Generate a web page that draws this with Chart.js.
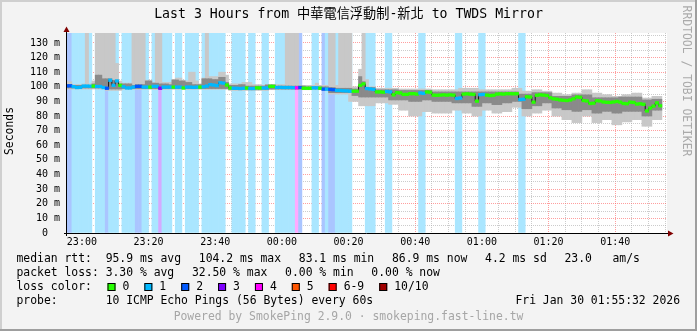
<!DOCTYPE html>
<html>
<head>
<meta charset="utf-8">
<title>SmokePing - Last 3 Hours</title>
<script src="https://cdn.jsdelivr.net/npm/chart.js@4.4.1/dist/chart.umd.min.js"></script>
<style>
  html, body { margin: 0; padding: 0; background: #f3f3f3; }
  canvas { display: block; }
</style>
</head>
<body>
<canvas id="smoke" width="697" height="331"></canvas>
<script>
// one slot per minute, slot 0 = 22:55 ... slot 180 = 01:55
const lossLevels = [
  2, 2, 1, 1, 1, 1, 1, 1, 0, 1,
  1, 1, 2, 1, 1, 1, 0, 1, 1, 1,
  1, 2, 2, 1, 1, 0, 1, 1, 3, 1,
  1, 1, 0, 1, 1, 0, 1, 1, 1, 1,
  0, 1, 1, 1, 1, 1, 1, 1, 0, 0,
  1, 1, 1, 1, 0, 1, 1, 0, 0, 1,
  1, 0, 0, 1, 1, 1, 1, 1, 1, 4,
  2, 0, 0, 0, 1, 1, 0, 2, 1, 2,
  2, 1, 1, 1, 1, 1, 0, 0, 0, 0,
  1, 1, 1, 0, 0, 0, 1, 1, 0, 0,
  0, 0, 0, 0, 0, 0, 1, 1, 0, 0,
  0, 0, 0, 0, 0, 0, 0, 1, 1, 0,
  0, 0, 0, 0, 1, 1, 0, 0, 0, 0,
  0, 0, 0, 0, 0, 0, 1, 1, 0, 0,
  0, 0, 0, 0, 0, 0, 0, 0, 0, 0,
  0, 0, 0, 0, 0, 0, 0, 0, 0, 0,
  0, 0, 0, 0, 0, 0, 0, 0, 0, 0,
  0, 0, 0, 0, 0, 0, 0, 0, 0, 0, 0
];

const median = [
  100.7, 100.7, 100.1, 99.5, 99.6, 100.5, 100.5, 100.4, 100.5, 100.2,
  100.2, 99.5, 99.0, 104.5, 101.0, 104.0, 101.0, 100.0, 99.2, 99.2,
  99.8, 100.3, 100.3, 99.8, 99.8, 99.8, 100.3, 100.3, 99.0, 99.8,
  99.8, 99.8, 99.8, 99.8, 99.8, 99.2, 99.8, 99.8, 99.6, 99.8,
  99.8, 100.0, 100.5, 101.5, 101.2, 100.8, 102.8, 102.5, 101.2, 99.2,
  99.0, 99.0, 98.8, 99.0, 99.2, 98.8, 98.8, 99.3, 99.2, 99.2,
  99.2, 100.3, 100.3, 99.5, 99.6, 99.5, 99.5, 99.5, 99.4, 99.3,
  99.5, 99.0, 99.0, 99.0, 99.3, 99.3, 99.0, 98.4, 98.4, 98.2,
  98.0, 97.5, 97.5, 97.3, 97.2, 97.0, 97.0, 97.0, 101.0, 102.0,
  98.8, 98.5, 98.2, 96.5, 96.5, 96.3, 96.8, 96.5, 94.5, 96.0,
  95.8, 94.8, 94.8, 95.3, 95.3, 95.0, 95.8, 95.5, 96.5, 96.3,
  94.3, 94.2, 94.3, 94.5, 94.3, 94.5, 94.3, 92.0, 92.3, 95.0,
  95.2, 95.0, 94.8, 90.2, 94.6, 94.8, 94.3, 94.0, 94.2, 95.0,
  95.2, 95.0, 95.3, 95.3, 95.2, 95.3, 91.3, 91.5, 93.2, 93.0,
  89.5, 94.2, 94.5, 94.3, 94.0, 92.5, 91.8, 91.5, 91.0, 90.8,
  90.6, 91.0, 91.8, 93.0, 92.8, 90.6, 90.3, 88.6, 88.8, 90.5,
  90.3, 89.6, 89.4, 89.3, 89.6, 90.0, 89.5, 88.6, 88.4, 89.5,
  89.3, 88.2, 88.4, 88.0, 83.5, 85.5, 86.8, 89.0, 87.0, null, null
];

// smoke: outer = min..max ping, inner = middle pings
const outerHi = [
  103.5, 103.5, 101.5, 101.5, 101.5, 102, 137, 102, 104, 137,
  137, 137, 137, 137, 137, 116, 104, 102.5, 102.5, 102.5,
  137, 137, 137, 137, 104.5, 104.5, 103, 137, 137, 103,
  103, 103, 105, 106, 106, 104.5, 104, 110, 110, 104,
  102, 106, 137, 107, 107, 107, 110, 110, 108, 102,
  102, 102, 102, 103, 103, 103, 101.5, 101.5, 101.5, 101,
  101.5, 101.5, 101.5, 101.5, 101.5, 101.5, 137, 137, 137, 137,
  101, 101, 101, 101, 101, 102.5, 101, 101, 101, 137,
  137, 101, 137, 137, 137, 137, 100, 100, 112, 137,
  105, 100, 100, 99, 99, 99, 99, 99, 99, 99,
  98.5, 98.5, 98.5, 98.5, 98.5, 98.5, 98.5, 98.5, 98.5, 98.5,
  98, 98, 98, 98, 98, 98, 98, 98, 99, 99,
  99, 99, 99, 99, 98, 98, 98, 98, 98, 98,
  98, 98, 98, 98, 99, 99, 99, 97, 97, 97,
  98, 98, 98, 97, 97, 97, 95.7, 95.7, 95.7, 94.6,
  94.6, 94.6, 95.7, 95.7, 95.7, 98, 98, 98, 95.7, 95.7,
  95.7, 94.6, 94.6, 94.6, 93.5, 93.5, 93.5, 94.6, 94.6, 94.6,
  95.7, 95.7, 95.7, 92.3, 92.3, 92.3, 93.5, 93.5, 93.5, null, null
];

const outerLo = [
  98.5, 98.5, 98.5, 98.5, 98.5, 98.5, 98.5, 98.5, 98.5, 98.5,
  98.5, 98.5, 97.5, 97.5, 97.5, 97.5, 97.5, 98.3, 98.3, 98.3,
  98.3, 98.3, 98.3, 98.3, 98.3, 98.3, 98.3, 98.3, 98.3, 98.3,
  98.3, 98.3, 98.3, 98.3, 98.3, 98.3, 98.3, 98.3, 98.3, 98.3,
  98.3, 98.3, 98.3, 98.3, 98.3, 98.3, 98.3, 98.3, 98.3, 97.5,
  97.5, 97.5, 97.5, 97.5, 97.5, 97.5, 97.5, 97.5, 97.5, 97.5,
  97.5, 98, 98, 98, 98, 98, 98, 98, 98, 98,
  98, 98, 98, 98, 98, 98, 98, 97.3, 97.3, 95,
  95, 95, 95, 95, 95, 90, 90, 90, 87, 87,
  87, 87, 87, 89, 89, 89, 89, 88, 88, 88,
  84, 84, 84, 80, 80, 80, 80, 83, 83, 83,
  82, 82, 82, 82, 82, 82, 84, 84, 84, 82,
  82, 82, 80, 80, 80, 84, 84, 84, 82, 82,
  82, 83, 83, 83, 86, 86, 86, 80, 80, 80,
  82, 82, 82, 84, 84, 84, 80, 80, 80, 77.5,
  77.5, 77.5, 75.5, 75.5, 75.5, 80, 80, 80, 75.5, 75.5,
  75.5, 77.5, 77.5, 77.5, 74, 74, 74, 76, 76, 76,
  77.5, 77.5, 77.5, 73, 73, 73, 77.5, 77.5, 77.5, null, null
];

const innerHi = [
  101.5, 101.5, 101, 101, 101, 101, 101, 101, 102, 108,
  108, 105.5, 105.5, 105.5, 104.5, 104.5, 102, 102, 102, 102,
  101, 101.5, 101.5, 101.5, 104, 104, 102.5, 102.5, 102, 102,
  102, 101.5, 104.7, 104.7, 104, 104, 103, 103, 101.5, 101.5,
  101.5, 105.5, 105.5, 105.5, 105, 105, 106.5, 106.5, 103, 101,
  101, 101, 101.5, 101.5, 100.5, 100.5, 100.5, 100.5, 100.5, 100.5,
  101.3, 101.3, 101.3, 100.5, 100.5, 100.5, 100.5, 100.5, 100.5, 100.5,
  100.5, 100.5, 100, 100, 100, 100, 100, 100, 100, 99.5,
  99.5, 99, 99, 99, 99, 99, 98.5, 98.5, 107, 103.5,
  99.5, 99.5, 99.5, 98, 98, 98, 98, 98, 98, 98,
  97.5, 97.5, 97.5, 97.5, 97.5, 97.5, 97.5, 97.5, 97.5, 97.5,
  96.5, 96.5, 96.5, 96.5, 96.5, 96.5, 96.5, 96.5, 96.5, 96.5,
  96.5, 96.5, 96.5, 96.5, 96.5, 96.5, 96.5, 96.5, 96.5, 96.5,
  96.5, 96.5, 96.5, 96.5, 96.5, 96.5, 95, 95, 95, 95,
  96, 96, 96, 96, 96, 96, 93.5, 93.5, 93.5, 93.5,
  93.5, 93.5, 94.5, 94.5, 94.5, 94.5, 94.5, 94.5, 92.5, 92.5,
  92.5, 92.5, 92.5, 92.5, 92.5, 92.5, 93, 93, 93, 93,
  93, 93, 93, 91, 91, 91, 91.5, 91.5, 91.5, null, null
];

const innerLo = [
  99.2, 99.2, 99.2, 99.2, 99.2, 99.2, 99.2, 99.2, 99.2, 99.2,
  99.2, 99.2, 98.5, 98.5, 98.5, 98.5, 98.5, 98.8, 98.8, 98.8,
  98.8, 98.8, 98.8, 98.8, 98.8, 98.8, 98.8, 98.8, 98.8, 98.8,
  98.8, 98.8, 98.8, 98.8, 98.8, 98.8, 98.8, 98.8, 98.8, 98.8,
  98.8, 98.8, 98.8, 98.8, 98.8, 98.8, 98.8, 98.8, 98.8, 98.2,
  98.2, 98.2, 98.2, 98.2, 98.2, 98.2, 98.2, 98.2, 98.2, 98.2,
  98.2, 98.5, 98.5, 98.5, 98.5, 98.5, 98.5, 98.5, 98.5, 98.5,
  98.5, 98.5, 98.5, 98.5, 98.5, 98.5, 98.5, 97.8, 97.8, 96,
  96, 96, 96, 96, 96, 96, 94, 94, 93, 93,
  93, 93, 93, 93, 93, 93, 93, 91, 91, 91,
  91, 91, 91, 90, 90, 90, 90, 91, 91, 91,
  90, 90, 90, 90, 90, 90, 89, 89, 89, 89,
  89, 89, 86.6, 86.6, 86.6, 89, 89, 89, 87.8, 87.8,
  87.8, 89, 89, 89, 90, 90, 90, 85, 85, 85,
  87, 87, 87, 89, 89, 89, 85.5, 85.5, 85.5, 84.3,
  84.3, 84.3, 83.2, 83.2, 83.2, 84.3, 84.3, 84.3, 82, 82,
  82, 83.2, 83.2, 83.2, 82, 82, 82, 83.2, 83.2, 83.2,
  83.2, 83.2, 83.2, 80, 80, 80, 84, 84, 84, null, null
];

const timeLabels = ['23:00', '23:20', '23:40', '00:00', '00:20', '00:40', '01:00', '01:20', '01:40'];
const rttLabels = ['0', '10 m', '20 m', '30 m', '40 m', '50 m', '60 m', '70 m',
  '80 m', '90 m', '100 m', '110 m', '120 m', '130 m'];

const lossNames = ['0', '1', '2', '3', '4', '5', '6-9', '10/10'];
const lossColors = ['#26ff00', '#00b8ff', '#0059ff', '#7e00ff', '#ff00ff', '#ff5500', '#ff0000', '#a10000'];
const lossBack = [null, '#aae6ff', '#aac5ff', '#d4aaff', '#ffaaff', '#ffccaa', '#ffaaaa', '#e3aaaa'];

// legend items, one array per line
const rttItems = ['median rtt:  95.9 ms avg', '104.2 ms max', '83.1 ms min', '86.9 ms now', '4.2 ms sd', '23.0   am/s'];
const lossItems = ['packet loss: 3.30 % avg', '32.50 % max', '0.00 % min', '0.00 % now'];
const probeLine = 'probe:       10 ICMP Echo Pings (56 Bytes) every 60s';
const stampText = 'Fri Jan 30 01:55:32 2026';
const titleText = 'Last 3 Hours from 中華電信浮動制-新北 to TWDS Mirror';

const yMax = 136.8;
const MONO = '"DejaVu Sans Mono", "Noto Sans CJK TC", monospace';

const lossIndex = l => (l >= 10 ? 7 : l >= 6 ? 6 : l);

// build bar data (x = middle of the minute)
const lossData = [], lossFill = [];
const outerData = [], innerData = [], medData = [], medColor = [], medLine = [];
lossLevels.forEach((l, i) => {
  const x = i + 0.5;
  if (l > 0) {
    lossData.push({ x: x, y: [0, yMax] });
    lossFill.push(lossBack[lossIndex(l)]);
  }
  if (median[i] != null) {
    outerData.push({ x: x, y: [outerLo[i], outerHi[i]] });
    innerData.push({ x: x, y: [innerLo[i], innerHi[i]] });
    medData.push({ x: x, y: [median[i] - 0.9, median[i] + 0.9] });
    medColor.push(lossColors[lossIndex(l)]);
  }
  medLine.push({ x: x, y: median[i] });
});

const bar = { type: 'bar', grouped: false, barPercentage: 1, categoryPercentage: 1, borderWidth: 0 };

const xTickVals = [];
for (let v = 5; v <= 180; v += 5) xTickVals.push(v);
const yTickVals = [];
for (let v = 0; v <= 135; v += 5) yTickVals.push(v);

const majorRed = 'rgba(255, 95, 95, 0.6)';
const minorGray = 'rgba(170, 170, 170, 0.6)';

function drawItems(ctx, items, x, y) {
  const gap = 17.7;
  items.forEach(t => {
    ctx.fillText(t, x, y);
    x += ctx.measureText(t).width + gap;
  });
}

const rrdFrame = {
  id: 'rrdFrame',
  beforeDraw(chart) {
    const { ctx, chartArea: a, width, height } = chart;
    ctx.save();
    ctx.fillStyle = '#f3f3f3';
    ctx.fillRect(0, 0, width, height);
    ctx.fillStyle = '#cfcfcf';
    ctx.fillRect(0, 0, width, 2);
    ctx.fillRect(0, 0, 2, height);
    ctx.fillStyle = '#9e9e9e';
    ctx.fillRect(0, height - 2, width, 2);
    ctx.fillRect(width - 2, 0, 2, height);
    ctx.fillStyle = '#ffffff';
    ctx.fillRect(a.left, a.top, a.right - a.left, a.bottom - a.top);
    ctx.restore();
  },
  afterDraw(chart) {
    const { ctx, chartArea: a, width } = chart;
    ctx.save();
    // axes
    ctx.strokeStyle = '#000';
    ctx.lineWidth = 1;
    ctx.beginPath();
    ctx.moveTo(a.left - 3, a.bottom + 0.5);
    ctx.lineTo(a.right + 2, a.bottom + 0.5);
    ctx.moveTo(a.left - 0.5, a.bottom + 3);
    ctx.lineTo(a.left - 0.5, a.top - 2);
    ctx.stroke();
    ctx.fillStyle = '#800000';
    ctx.beginPath();
    ctx.moveTo(a.right + 1, a.bottom - 2.5);
    ctx.lineTo(a.right + 6.5, a.bottom + 0.5);
    ctx.lineTo(a.right + 1, a.bottom + 3.5);
    ctx.closePath();
    ctx.fill();
    ctx.beginPath();
    ctx.moveTo(a.left - 3.5, a.top - 1);
    ctx.lineTo(a.left - 0.5, a.top - 6.5);
    ctx.lineTo(a.left + 2.5, a.top - 1);
    ctx.closePath();
    ctx.fill();

    // title
    ctx.fillStyle = '#000';
    ctx.textBaseline = 'middle';
    ctx.textAlign = 'center';
    ctx.font = '13.2px ' + MONO;
    ctx.fillText(titleText, width / 2, 15);

    // vertical texts
    ctx.font = '11.4px ' + MONO;
    ctx.save();
    ctx.translate(10, 131);
    ctx.rotate(-Math.PI / 2);
    ctx.fillText('Seconds', 0, 0);
    ctx.restore();
    ctx.save();
    ctx.fillStyle = '#aaaaaa';
    ctx.translate(686, 81);
    ctx.rotate(Math.PI / 2);
    ctx.fillText('RRDTOOL / TOBI OETIKER', 0, 0);
    ctx.restore();

    // legend
    ctx.textAlign = 'left';
    const x0 = 16.5;
    drawItems(ctx, rttItems, x0, 259);
    drawItems(ctx, lossItems, x0, 273);
    ctx.fillText('loss color:', x0, 287);
    ctx.fillText(probeLine, x0, 301);
    ctx.textAlign = 'right';
    ctx.fillText(stampText, 680, 301);

    ctx.textAlign = 'left';
    let bx = 107.5;
    lossNames.forEach((name, i) => {
      ctx.fillStyle = lossColors[i];
      ctx.fillRect(bx, 283, 8, 8);
      ctx.strokeStyle = '#000';
      ctx.strokeRect(bx + 0.5, 283.5, 7, 7);
      ctx.fillStyle = '#000';
      ctx.fillText(name, bx + 15, 287);
      bx += 15 + ctx.measureText(name).width + 15;
    });

    ctx.textAlign = 'center';
    ctx.fillStyle = '#a6a6a6';
    ctx.fillText('Powered by SmokePing 2.9.0 \u00b7 smokeping.fast-line.tw', width / 2, 317);
    ctx.restore();
  }
};

new Chart(document.getElementById('smoke'), {
  type: 'bar',
  data: {
    datasets: [
      { ...bar, label: 'loss', order: 5, data: lossData, backgroundColor: lossFill },
      { ...bar, label: 'smoke outer', order: 4, data: outerData, backgroundColor: '#c8c8c8' },
      { ...bar, label: 'smoke inner', order: 3, data: innerData, backgroundColor: '#8a8a8a' },
      {
        type: 'line', label: 'median step', order: 2, data: medLine,
        stepped: 'middle', borderColor: '#1a1a1a', borderWidth: 1,
        pointRadius: 0, spanGaps: false
      },
      { ...bar, label: 'median rtt', order: 1, data: medData, backgroundColor: medColor }
    ]
  },
  options: {
    responsive: false,
    animation: false,
    devicePixelRatio: 1,
    events: [],
    layout: { padding: { left: 0, right: 30, top: 33, bottom: 0 } },
    plugins: {
      legend: { display: false },
      tooltip: { enabled: false },
      title: { display: false }
    },
    scales: {
      x: {
        type: 'linear',
        min: 0.533,
        max: 180.533,
        offset: false,
        z: 1,
        afterBuildTicks: s => { s.ticks = xTickVals.map(v => ({ value: v })); },
        afterFit: s => { s.height = 98; },
        ticks: {
          autoSkip: false,
          maxRotation: 0,
          minRotation: 0,
          padding: 3,
          color: '#000',
          font: { family: MONO, size: 10 },
          callback: v => ((v - 5) % 20 === 0 ? timeLabels[(v - 5) / 20] : '')
        },
        grid: {
          offset: false,
          drawTicks: false,
          lineWidth: 1,
          color: c => ((c.tick.value - 5) % 20 === 0 ? majorRed : minorGray)
        },
        border: { display: false, dash: [1, 1] }
      },
      y: {
        min: 0,
        max: yMax,
        z: 1,
        afterBuildTicks: s => { s.ticks = yTickVals.map(v => ({ value: v })); },
        afterFit: s => { s.width = 67; },
        ticks: {
          autoSkip: false,
          padding: 7,
          color: '#000',
          font: { family: MONO, size: 10 },
          callback: v => (v % 10 === 0 ? (v === 0 ? rttLabels[0] + '  ' : rttLabels[v / 10]) : '')
        },
        grid: {
          drawTicks: false,
          lineWidth: 1,
          color: c => (c.tick.value % 10 === 0 ? majorRed : minorGray)
        },
        border: { display: false, dash: [1, 1] }
      }
    }
  },
  plugins: [rrdFrame]
});
</script>
</body>
</html>
